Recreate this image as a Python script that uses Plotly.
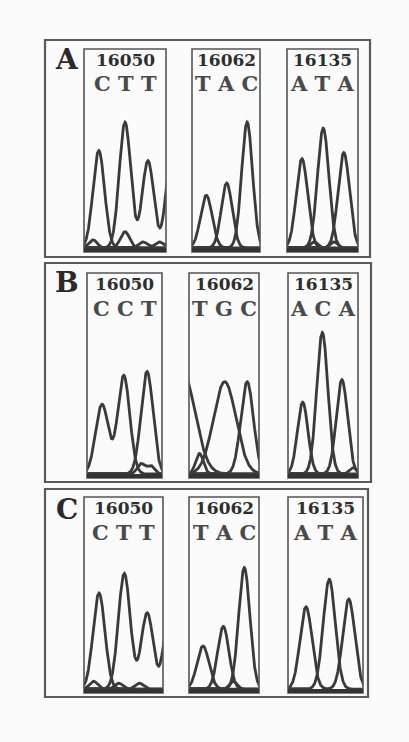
import numpy as np
import plotly.graph_objects as go

W, H = 409, 742

# Panels, sequence positions and the three bases read at each position
panel_letters = ["A", "B", "C"]
positions = ["16050", "16062", "16135"]
base_calls = {
    "A": ["C T T", "T A C", "A T A"],
    "B": ["C C T", "T G C", "A C A"],
    "C": ["C T T", "T A C", "A T A"],
}

# Chromatogram peaks per window: (base, centre %, height %, width %)
# centre is the position across the window, height is relative signal
peaks_A = [
    [("C", 18, 48, 7.0), ("T", 50, 62, 7.0), ("T", 78, 43, 7.0), ("T", 106, 42, 6.5),
     ("G", 11, 4, 5.0), ("G", 50, 8, 5.5), ("A", 72, 3, 5.0), ("A", 92, 3, 5.0)],
    [("T", 21, 26, 8.5), ("A", 51, 32, 8.0), ("C", 81, 62, 8.0)],
    [("A", 21, 44, 8.0), ("T", 51, 59, 8.0), ("A", 80, 47, 8.0),
     ("G", 38, 3, 5.0), ("C", 66, 3, 5.0)],
]
peaks_B = [
    [("C", 20, 34, 8.5), ("C", 49, 48, 8.0), ("T", 80, 50, 8.0),
     ("G", 72, 5, 5.0), ("G", 85, 4, 5.0)],
    [("T", -10, 51, 18.0), ("G", 51, 45, 16.0), ("C", 83, 45, 9.0), ("A", 15, 10, 5.5)],
    [("A", 21, 35, 7.5), ("C", 49, 69, 8.0), ("A", 77, 46, 8.0), ("G", 93, 3, 5.0)],
]
peaks_C = [
    [("C", 19, 49, 7.5), ("T", 51, 59, 7.5), ("T", 80, 39, 7.5), ("T", 107, 36, 6.5),
     ("G", 12, 4, 5.0), ("G", 44, 3, 5.0), ("A", 70, 3, 5.0)],
    [("T", 20, 22, 8.5), ("A", 49, 32, 8.0), ("C", 79, 62, 8.0), ("G", 63, 4, 5.0)],
    [("A", 24, 42, 8.0), ("T", 55, 56, 8.0), ("A", 81, 46, 8.0)],
]
peak_sets = {"A": peaks_A, "B": peaks_B, "C": peaks_C}

# Layout geometry in pixels: outer panel frames and the chromatogram windows
outer_px = {"A": (45, 40, 370, 257), "B": (45, 263, 371, 482), "C": (45, 489, 368, 697)}
window_y_px = {"A": (49, 252), "B": (273, 478), "C": (497, 693)}
window_x_px = {
    "A": [(84, 166), (192, 260), (287, 358)],
    "B": [(87, 162), (189, 259), (288, 358)],
    "C": [(84, 163), (189, 259), (288, 363)],
}

INK = "#3a3a3a"
SERIF = "DejaVu Serif"


def px_x(x):
    return x / W


def px_y(y):
    return 1 - y / H


fig = go.Figure()
xs = np.linspace(-30, 130, 600)
baseline = 2.0

n = 0
for p in panel_letters:
    y0, y1 = window_y_px[p]
    for k, (x0, x1) in enumerate(window_x_px[p]):
        n += 1
        xa = "x" if n == 1 else f"x{n}"
        ya = "y" if n == 1 else f"y{n}"
        xkey = "xaxis" if n == 1 else f"xaxis{n}"
        ykey = "yaxis" if n == 1 else f"yaxis{n}"
        fig.layout[xkey] = dict(domain=[px_x(x0), px_x(x1)], range=[0, 100],
                                visible=False, fixedrange=True)
        fig.layout[ykey] = dict(domain=[px_y(y1), px_y(y0)], range=[0, 100],
                                visible=False, fixedrange=True)
        # one trace per base, each the sum of its peaks
        by_base = {}
        for base, c, h, w in peak_sets[p][k]:
            by_base.setdefault(base, []).append((c, h, w))
        for base, plist in by_base.items():
            ys = np.full_like(xs, baseline)
            for c, h, w in plist:
                ys = ys + h * np.exp(-0.5 * ((xs - c) / w) ** 2)
            fig.add_trace(go.Scatter(x=xs, y=ys, mode="lines", xaxis=xa, yaxis=ya,
                                     line=dict(color=INK, width=2.8),
                                     hoverinfo="skip", showlegend=False, name=base))
        # window frame and dark baseline band
        fig.add_shape(type="rect", xref=f"{xa} domain", yref=f"{ya} domain",
                      x0=0, x1=1, y0=0, y1=1, line=dict(color="#555", width=1.6))
        fig.add_shape(type="line", xref=f"{xa} domain", yref=f"{ya} domain",
                      x0=0, x1=1, y0=0.01, y1=0.01, line=dict(color="#333", width=4))
        # position number and bases above the traces
        fig.add_annotation(xref=f"{xa} domain", yref="paper", x=0.5, y=px_y(y0 + 11),
                           text=f"<b>{positions[k]}</b>", showarrow=False,
                           font=dict(family=SERIF, size=17, color="#2e2e2e"),
                           xanchor="center", yanchor="middle")
        fig.add_annotation(xref=f"{xa} domain", yref="paper", x=0.5, y=px_y(y0 + 35),
                           text=f"<b>{base_calls[p][k]}</b>", showarrow=False,
                           font=dict(family=SERIF, size=21, color="#4a4a4a"),
                           xanchor="center", yanchor="middle")
    # outer panel frame and panel letter
    ox0, oy0, ox1, oy1 = outer_px[p]
    fig.add_shape(type="rect", xref="paper", yref="paper",
                  x0=px_x(ox0), x1=px_x(ox1), y0=px_y(oy1), y1=px_y(oy0),
                  line=dict(color="#5a5a5a", width=2.2))
    fig.add_annotation(xref="paper", yref="paper", x=px_x(67), y=px_y(oy0 + 20),
                       text=f"<b>{p}</b>", showarrow=False,
                       font=dict(family=SERIF, size=28, color="#2a2a2a"),
                       xanchor="center", yanchor="middle")

fig.update_layout(width=W, height=H, margin=dict(l=0, r=0, t=0, b=0),
                  paper_bgcolor="#fbfbfb", plot_bgcolor="rgba(0,0,0,0)",
                  showlegend=False)
fig.write_html("out.html")
